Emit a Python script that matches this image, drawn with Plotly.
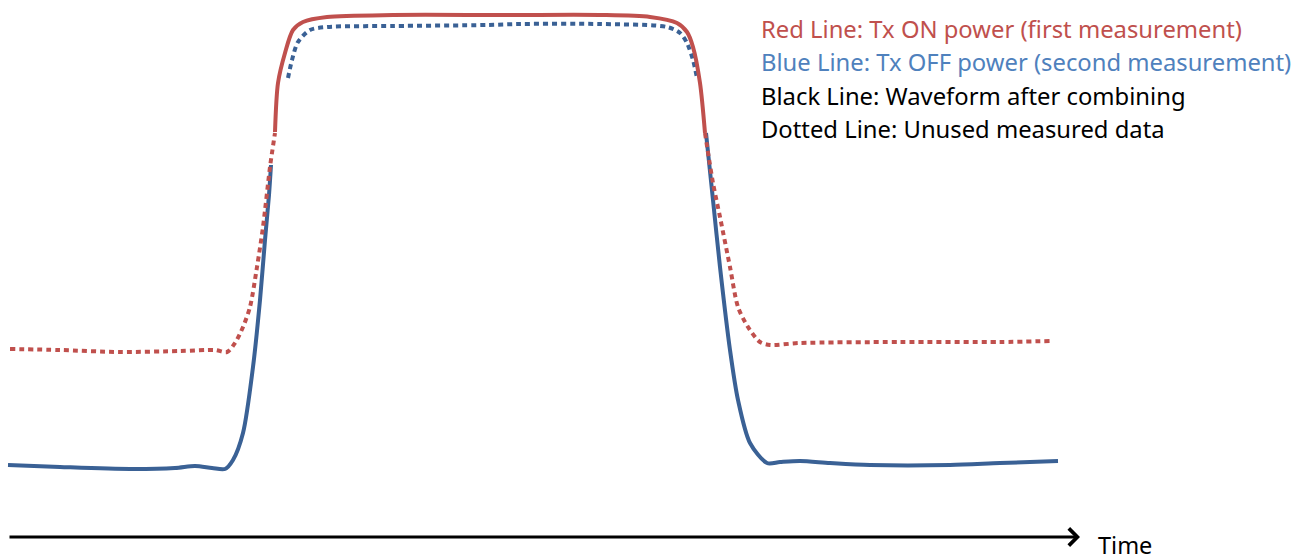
import plotly.graph_objects as go

# Values (time in px-like units, level in px from top)
red_off_x = [10, 60, 120, 180, 215, 227, 235, 243, 250, 257, 263, 270, 275]
red_off_y = [349, 350, 352, 351, 350, 352, 343, 327, 307, 267, 227, 167, 133]

blue_used_left_x = [8, 60, 130, 175, 195, 212, 225, 233, 243, 253, 260, 265, 269, 271]
blue_used_left_y = [465, 467, 469, 468, 466, 468, 469, 460, 433, 367, 300, 240, 195, 165]

blue_unused_x = [288, 292, 298, 310, 327, 393, 487, 520, 600, 667, 680, 687, 693, 697]
blue_unused_y = [78, 60, 42, 30, 27, 26, 25, 24, 24, 27, 33, 43, 60, 78]

red_used_x = [275, 278, 285, 293, 303, 327, 393, 490, 520, 600, 650, 677, 687, 693, 700, 705]
red_used_y = [132, 83, 53, 30, 22, 17, 15, 15, 15, 15, 17, 23, 32, 47, 83, 133]

blue_used_right_x = [706, 713, 720, 730, 738, 750, 767, 780, 800, 830, 870, 950, 1000, 1058]
blue_used_right_y = [133, 200, 267, 350, 400, 443, 463, 462, 461, 463, 465, 465, 463, 461]

red_off_right_x = [705, 713, 720, 730, 738, 748, 760, 770, 800, 900, 1000, 1050]
red_off_right_y = [133, 183, 217, 267, 307, 327, 342, 345, 343, 342, 342, 341]

legend_lines = [
    ("Red Line: Tx ON power (first measurement)", "#C0504D"),
    ("Blue Line: Tx OFF power (second measurement)", "#4F81BD"),
    ("Black Line: Waveform after combining", "#000000"),
    ("Dotted Line: Unused measured data", "#000000"),
]

RED = "#C0504D"
BLUE = "#3A6195"
DOT = "5px,4px"
W = 4

fig = go.Figure()

def add(x, y, color, dash):
    fig.add_trace(go.Scatter(
        x=x, y=y, mode="lines", connectgaps=False,
        line=dict(color=color, width=W, dash=dash, shape="spline", smoothing=0.8),
        hoverinfo="skip"))

add(blue_used_left_x, blue_used_left_y, BLUE, "solid")
add(blue_used_right_x, blue_used_right_y, BLUE, "solid")
add(blue_unused_x, blue_unused_y, BLUE, DOT)
add(red_off_x, red_off_y, RED, DOT)
add(red_off_right_x, red_off_right_y, RED, DOT)
add(red_used_x, red_used_y, RED, "solid")

# time axis arrow
fig.add_annotation(x=1080, y=537, ax=8, ay=537, xref="x", yref="y", axref="x", ayref="y",
                   text="", showarrow=True, arrowhead=4, arrowwidth=3, arrowsize=1.1,
                   arrowcolor="#000000", standoff=0)
fig.add_annotation(x=1096, y=545, xref="x", yref="y", text="Time", showarrow=False,
                   xanchor="left", yanchor="middle",
                   font=dict(family="Noto Sans", size=23.5, color="#000000"))

for i, (txt, col) in enumerate(legend_lines):
    fig.add_annotation(x=759, y=28.5 + i * 33.5, xref="x", yref="y", text=txt, showarrow=False,
                       xanchor="left", yanchor="middle",
                       font=dict(family="Noto Sans", size=23.8, color=col))

fig.update_layout(
    width=1309, height=556,
    margin=dict(l=0, r=0, t=0, b=0),
    paper_bgcolor="white", plot_bgcolor="white",
    showlegend=False,
    xaxis=dict(range=[0, 1309], visible=False, fixedrange=True),
    yaxis=dict(range=[556, 0], visible=False, fixedrange=True),
)

fig.write_html("out.html", config={"displayModeBar": False},
               post_script="document.body.style.margin='0';document.body.style.overflow='hidden';")
